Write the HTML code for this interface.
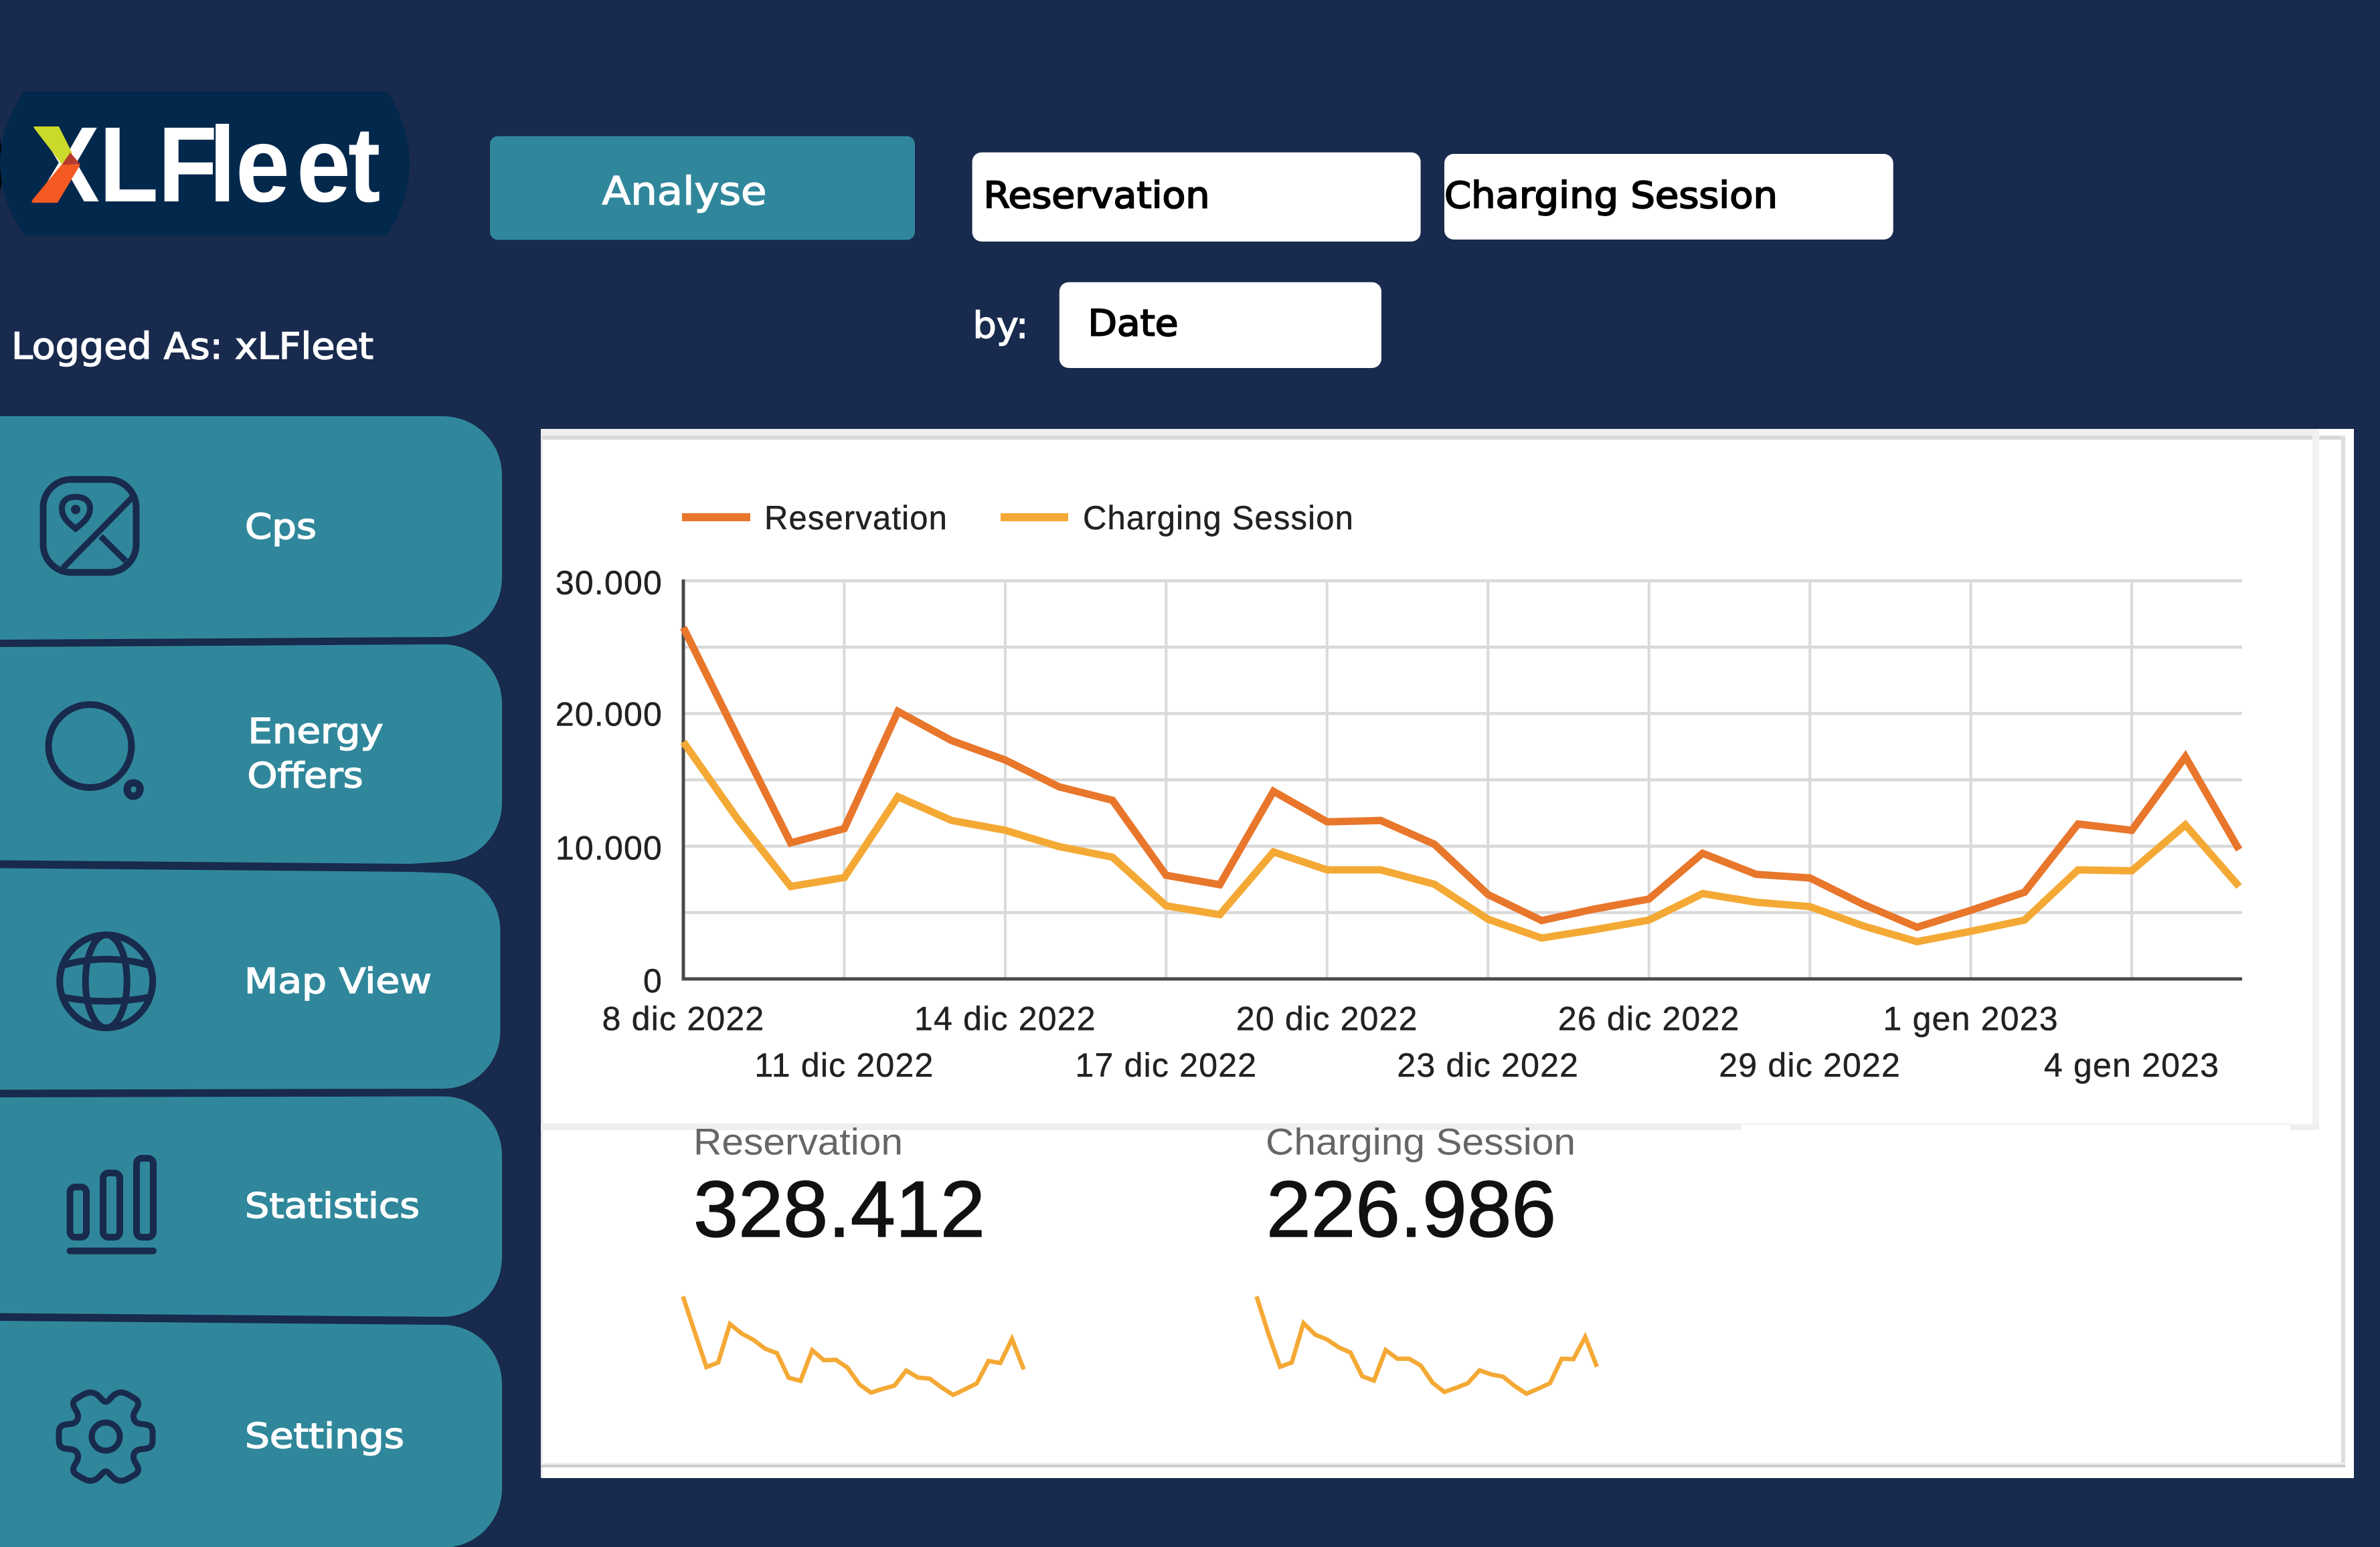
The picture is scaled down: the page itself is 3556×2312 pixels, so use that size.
<!DOCTYPE html>
<html lang="it">
<head>
<meta charset="utf-8">
<title>XLFleet Analyse</title>
<style>
html,body{margin:0;padding:0;background:#182a4d;width:3556px;height:2312px;overflow:hidden}
svg{display:block}
.ui{font-family:"DejaVu Sans","Liberation Sans",sans-serif}
.nav-t{fill:#fff;font-size:52px;stroke:#fff;stroke-width:1.5px}
.sel-t{fill:#000;font-size:54px;stroke:#000;stroke-width:1.9px}
.ico{fill:none;stroke:#182a4d;stroke-width:10}
.ch{font-family:"Liberation Sans",sans-serif;fill:#222;stroke:#222;stroke-width:.5px;font-size:50px;letter-spacing:1.2px}
</style>
</head>
<body>
<svg xmlns="http://www.w3.org/2000/svg" width="3556" height="2312" viewBox="0 0 3556 2312">
  <rect x="0" y="0" width="3556" height="2312" fill="#182a4d"/>

  <!-- Logo -->
  <g>
    <path d="M0,209 Q9,248 0,286 Z" fill="#000"/>
    <path d="M36,136.5 L579,136.5 Q645,244 579,351.6 L36,351.6 Q-36,244 36,136.5 Z" fill="#02284b"/>
    <text transform="scale(.91,1)" x="57 162.6 259.3 342.9 386.8 486.8 571.4" y="301" font-family="'Liberation Sans',sans-serif" font-weight="700" font-size="160" fill="#fff">XLFleet</text>
    <polygon points="50,189 88,189 108,229 92,245 52,193" fill="#cbd92a"/>
    <polygon points="92,246 120,246 86,303 47,303 49,298" fill="#f45a22"/>
    <polygon points="105,228 120,245.5 92,246.5" fill="#b83a2c"/>
  </g>

  <text class="ui" x="17" y="536" font-size="54" fill="#fff" stroke="#fff" stroke-width="1.5" textLength="541" lengthAdjust="spacingAndGlyphs">Logged As: xLFleet</text>

  <!-- Top controls -->
  <g>
    <rect x="732" y="203.5" width="635" height="155" rx="12" fill="#30879b"/>
    <text class="ui" x="899.5" y="305.7" font-size="58" fill="#fff" stroke="#fff" stroke-width="1.4" textLength="246" lengthAdjust="spacingAndGlyphs">Analyse</text>
  </g>
  <g>
    <rect x="1452.6" y="227.7" width="670" height="133.3" rx="14" fill="#fff"/>
    <text class="ui sel-t" x="1469.5" y="310.7" textLength="338" lengthAdjust="spacingAndGlyphs">Reservation</text>
  </g>
  <g>
    <rect x="2158" y="230" width="670.7" height="128" rx="14" fill="#fff"/>
    <text class="ui sel-t" x="2158" y="310.7" textLength="498" lengthAdjust="spacingAndGlyphs">Charging Session</text>
  </g>
  <text class="ui" x="1453.5" y="505" font-size="54" fill="#fff" stroke="#fff" stroke-width="1.4" textLength="83" lengthAdjust="spacingAndGlyphs">by:</text>
  <g>
    <rect x="1582.8" y="421.7" width="481.2" height="128.3" rx="14" fill="#fff"/>
    <text class="ui sel-t" x="1625.5" y="501.7" textLength="135" lengthAdjust="spacingAndGlyphs">Date</text>
  </g>

  <!-- Navigation -->
  <g>
    <path d="M0,622 L662,622 A88,88 0 0 1 750,710 L750,864 A88,88 0 0 1 662,952 L0,956 Z" fill="#30879b"/>
    <g class="ico">
      <rect x="64.5" y="716.5" width="139" height="139" rx="42"/>
      <path d="M113,790 C100,780 92.5,772 92.5,760 C92.5,748 101,742.5 113,742.5 C125,742.5 134.5,748 134.5,760 C134.5,772 126,780 113,790 Z" stroke-width="9"/>
      <circle cx="113" cy="761.5" r="7" fill="#182a4d" stroke="none"/>
      <path d="M198,743 L94,849 M150.5,801.6 L188,838.5" stroke-width="9"/>
    </g>
    <text class="ui nav-t" x="366" y="805" textLength="107" lengthAdjust="spacingAndGlyphs">Cps</text>
  </g>
  <g>
    <path d="M0,967 L662,963 A88,88 0 0 1 750,1051 L750,1200 A88,88 0 0 1 662,1288 L614,1291 L0,1285.6 Z" fill="#30879b"/>
    <g class="ico">
      <circle cx="134.5" cy="1115" r="62"/>
      <path d="M199,1170 C207,1170 210,1175 209,1181 C208,1187 204,1190 199,1190 C194,1190 190,1186 190,1180 C190,1174 193,1170 199,1170 Z" stroke-width="11"/>
    </g>
    <text class="ui nav-t" x="370.5" y="1110.6" textLength="202" lengthAdjust="spacingAndGlyphs">Energy</text>
    <text class="ui nav-t" x="369.5" y="1177" textLength="173" lengthAdjust="spacingAndGlyphs">Offers</text>
  </g>
  <g>
    <path d="M0,1297.5 L614,1303 L662,1304.6 A85.5,85.5 0 0 1 747.5,1390 L747.5,1541 A85.5,85.5 0 0 1 662,1627 L0,1628.6 Z" fill="#30879b"/>
    <g class="ico">
      <circle cx="158.7" cy="1466.6" r="69.5"/>
      <ellipse cx="158.7" cy="1466.6" rx="31" ry="69.5"/>
      <path d="M93,1443 Q158.7,1424 224,1443 M93,1490 Q158.7,1503 224,1490"/>
    </g>
    <text class="ui nav-t" x="365" y="1484" textLength="280" lengthAdjust="spacingAndGlyphs">Map View</text>
  </g>
  <g>
    <path d="M0,1640 L662,1638.5 A88,88 0 0 1 750,1726 L750,1880 A88,88 0 0 1 662,1968 L0,1962.5 Z" fill="#30879b"/>
    <g class="ico">
      <rect x="104.5" y="1774" width="24.5" height="75" rx="8"/>
      <rect x="154" y="1753" width="25" height="96" rx="8"/>
      <rect x="204" y="1731" width="25" height="118" rx="8"/>
      <rect x="99.5" y="1864.5" width="134.5" height="10" rx="5" fill="#182a4d" stroke="none"/>
    </g>
    <text class="ui nav-t" x="366" y="1820" textLength="261" lengthAdjust="spacingAndGlyphs">Statistics</text>
  </g>
  <g>
    <path d="M0,1974 L662,1980 A88,88 0 0 1 750,2068 L750,2225 A88,88 0 0 1 662,2313 L0,2313 Z" fill="#30879b"/>
    <g class="ico" transform="translate(158,2147)">
      <path d="M0,-52 C-6,-52 -10,-66 -23,-66 C-30,-66 -38,-60 -45,-56 C-52,-50 -47,-44 -45,-40 C-38,-30 -42,-20 -52,-19 C-62,-18 -70,-18 -70,-6 L-70,6 C-70,18 -62,18 -52,19 C-42,20 -38,30 -45,40 C-47,44 -52,50 -45,56 C-38,60 -30,66 -23,66 C-10,66 -6,52 0,52 C6,52 10,66 23,66 C30,66 38,60 45,56 C52,50 47,44 45,40 C38,30 42,20 52,19 C62,18 70,18 70,6 L70,-6 C70,-18 62,-18 52,-19 C42,-20 38,-30 45,-40 C47,-44 52,-50 45,-56 C38,-60 30,-66 23,-66 C10,-66 6,-52 0,-52 Z" stroke-width="9"/>
      <circle cx="0" cy="0" r="21" stroke-width="9"/>
    </g>
    <text class="ui nav-t" x="366" y="2163.8" textLength="238" lengthAdjust="spacingAndGlyphs">Settings</text>
  </g>

  <!-- White report panel -->
  <g>
    <rect x="808" y="641" width="2709" height="1568" fill="#fff"/>
    <rect x="808" y="641" width="2657" height="10" fill="#eeeeee"/>
    <rect x="808" y="651" width="2696" height="6" fill="#d8d8d8"/>
    <rect x="808" y="651" width="3" height="1558" fill="#e8e8e8"/>
    <rect x="3455" y="641" width="10" height="1048" fill="#f1f1f1"/>
    <rect x="3498" y="651" width="6" height="1542" fill="#dedede"/>
    <rect x="808" y="1679" width="1794" height="10" fill="#efefef"/>
    <rect x="2602" y="1679" width="820" height="2" fill="#f2f2f2"/>
    <rect x="3422" y="1680" width="43" height="9" fill="#efefef"/>
    <rect x="808" y="2186" width="2696" height="3" fill="#eeeeee"/>
    <rect x="808" y="2189" width="2696" height="4" fill="#cccccc"/>
  </g>

  <!-- Main chart -->
  <g id="main-chart">
    <g>
      <g>
        <rect x="1019" y="767" width="102" height="12" fill="#e8762b"/>
        <text class="ch" x="1142" y="791" font-size="52" textLength="274" lengthAdjust="spacingAndGlyphs">Reservation</text>
      </g>
      <g>
        <rect x="1495" y="767" width="101" height="12" fill="#f4a935"/>
        <text class="ch" x="1618" y="791" font-size="52" textLength="405" lengthAdjust="spacingAndGlyphs">Charging Session</text>
      </g>
    </g>
    <g id="grid"></g>
    <g id="axes"></g>
    <g id="lines"></g>
    <g id="ylabels"></g>
    <g id="xlabels"></g>
  </g>

  <!-- KPI scorecards -->
  <g>
    <text x="1036" y="1725.7" font-family="'Liberation Sans',sans-serif" font-size="56" fill="#666" textLength="313" lengthAdjust="spacingAndGlyphs">Reservation</text>
    <text x="1036" y="1848" font-family="'Liberation Sans',sans-serif" font-size="119" fill="#111" stroke="#111" stroke-width="1.5" textLength="436" lengthAdjust="spacingAndGlyphs">328.412</text>
    <polyline id="spark-res" fill="none" stroke="#f4a935" stroke-width="6.5"/>
  </g>
  <g>
    <text x="1891" y="1725.7" font-family="'Liberation Sans',sans-serif" font-size="56" fill="#666" textLength="463" lengthAdjust="spacingAndGlyphs">Charging Session</text>
    <text x="1892" y="1848" font-family="'Liberation Sans',sans-serif" font-size="119" fill="#111" stroke="#111" stroke-width="1.5" textLength="433" lengthAdjust="spacingAndGlyphs">226.986</text>
    <polyline id="spark-chg" fill="none" stroke="#f4a935" stroke-width="6.5"/>
  </g>
</svg>

<script>
const categories = ["8 dic 2022","9 dic 2022","10 dic 2022","11 dic 2022","12 dic 2022","13 dic 2022","14 dic 2022","15 dic 2022","16 dic 2022","17 dic 2022","18 dic 2022","19 dic 2022","20 dic 2022","21 dic 2022","22 dic 2022","23 dic 2022","24 dic 2022","25 dic 2022","26 dic 2022","27 dic 2022","28 dic 2022","29 dic 2022","30 dic 2022","31 dic 2022","1 gen 2023","2 gen 2023","3 gen 2023","4 gen 2023","5 gen 2023","6 gen 2023"];
const reservation = [26480,18300,10250,11330,20160,17960,16500,14480,13460,7810,7100,14140,11840,11940,10150,6360,4400,5280,6020,9470,7880,7610,5610,3890,5170,6530,11670,11200,16740,9740];
const chargingSession = [17860,12110,6970,7640,13730,11940,11200,9980,9170,5510,4840,9570,8220,8220,7140,4500,3080,3720,4430,6430,5780,5450,3990,2810,3590,4430,8220,8150,11600,6970];
const gridValues = [0,5000,10000,15000,20000,25000,30000];
const yTickValues = [0,10000,20000,30000];
const yTickLabels = ["0","10.000","20.000","30.000"];

const SVG_NS = "http://www.w3.org/2000/svg";
const yMax = 30000;
function xAt(i){ return 1021 + i * 80.15; }
function yAt(v){ return 1463 - (v / yMax) * 595; }
function sparkX(i, n, x0, x1){ return x0 + (x1 - x0) * i / (n - 1); }
function sparkY(v, max){ return 2110 - (v / max) * 172.5; }
function toPoints(values, fx, fy){ return values.map(function(v, i){ return fx(i).toFixed(1) + "," + fy(v).toFixed(1); }).join(" "); }
function make(tag, parent){ const el = document.createElementNS(SVG_NS, tag); parent.appendChild(el); return el; }

const grid = document.getElementById("grid");
gridValues.forEach(function(v){
  if (v === 0) return;
  const l = make("line", grid);
  l.setAttribute("x1", 1021); l.setAttribute("x2", 3350);
  l.setAttribute("y1", yAt(v)); l.setAttribute("y2", yAt(v));
  l.setAttribute("stroke", "#d9d9d9"); l.setAttribute("stroke-width", 4.5);
  
  
});
categories.forEach(function(c, i){
  if (i % 3 !== 0 || i === 0) return;
  const l = make("line", grid);
  l.setAttribute("x1", xAt(i)); l.setAttribute("x2", xAt(i));
  l.setAttribute("y1", yAt(yMax)); l.setAttribute("y2", yAt(0));
  l.setAttribute("stroke", "#dadada"); l.setAttribute("stroke-width", 4);
  
  
});

const axes = document.getElementById("axes");
const yAxis = make("line", axes);
yAxis.setAttribute("x1", 1021); yAxis.setAttribute("x2", 1021);
yAxis.setAttribute("y1", yAt(yMax) - 2); yAxis.setAttribute("y2", yAt(0) + 2.5);
yAxis.setAttribute("stroke", "#4a4a4a"); yAxis.setAttribute("stroke-width", 5);


const xAxis = make("line", axes);
xAxis.setAttribute("x1", 1019); xAxis.setAttribute("x2", 3350);
xAxis.setAttribute("y1", yAt(0)); xAxis.setAttribute("y2", yAt(0));
xAxis.setAttribute("stroke", "#4a4a4a"); xAxis.setAttribute("stroke-width", 5);



const lines = document.getElementById("lines");
const lineCharging = make("polyline", lines);
lineCharging.setAttribute("points", toPoints(chargingSession, xAt, yAt));
lineCharging.setAttribute("fill", "none");
lineCharging.setAttribute("stroke", "#f4a935");
lineCharging.setAttribute("stroke-width", 11);


const lineReservation = make("polyline", lines);
lineReservation.setAttribute("points", toPoints(reservation, xAt, yAt));
lineReservation.setAttribute("fill", "none");
lineReservation.setAttribute("stroke", "#e8762b");
lineReservation.setAttribute("stroke-width", 11);



const ylabels = document.getElementById("ylabels");
yTickValues.forEach(function(v, i){
  const t = make("text", ylabels);
  t.setAttribute("class", "ch");
  t.setAttribute("x", 990);
  t.setAttribute("y", yAt(v) + (v === 20000 ? 18 : 20));
  t.setAttribute("text-anchor", "end");
  t.textContent = yTickLabels[i];
  
  
});

const xlabels = document.getElementById("xlabels");
categories.forEach(function(c, i){
  if (i % 3 !== 0) return;
  const t = make("text", xlabels);
  t.setAttribute("class", "ch");
  t.setAttribute("x", xAt(i));
  t.setAttribute("y", (i / 3) % 2 === 0 ? 1539.5 : 1609);
  t.setAttribute("text-anchor", "middle");
  t.textContent = c;
  
  
});

const maxRes = Math.max.apply(null, reservation);
const maxChg = Math.max.apply(null, chargingSession);
document.getElementById("spark-res").setAttribute("points", toPoints(reservation, function(i){ return sparkX(i, reservation.length, 1020.4, 1529.6); }, function(v){ return sparkY(v, maxRes); }));
document.getElementById("spark-chg").setAttribute("points", toPoints(chargingSession, function(i){ return sparkX(i, chargingSession.length, 1877.5, 2386); }, function(v){ return sparkY(v, maxChg); }));
</script>
</body>
</html>
